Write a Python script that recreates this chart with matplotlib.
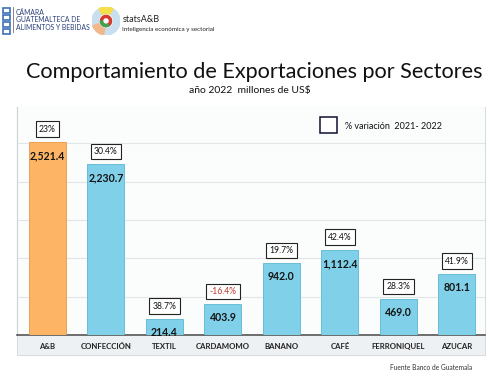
import matplotlib
matplotlib.use("Agg")
import matplotlib.pyplot as plt
from matplotlib.patches import Rectangle, Wedge

plt.rcParams['font.family'] = ['Lato', 'DejaVu Sans']

categories = ["A&B", "CONFECCIÓN", "TEXTIL", "CARDAMOMO", "BANANO", "CAFÉ", "FERRONIQUEL", "AZUCAR"]
values = [2521.4, 2230.7, 214.4, 403.9, 942.0, 1112.4, 469.0, 801.1]
pct_labels = ["23%", "30.4%", "38.7%", "-16.4%", "19.7%", "42.4%", "28.3%", "41.9%"]
pct_values = [23.0, 30.4, 38.7, -16.4, 19.7, 42.4, 28.3, 41.9]

W, H = 495, 375
fig = plt.figure(figsize=(W / 100, H / 100), dpi=100)
fig.patch.set_facecolor("white")

def fx(x):
    return x / W

def fy(y):
    return 1 - y / H

# chart frame
frame = Rectangle((fx(17), fy(355)), fx(485) - fx(17), fy(107) - fy(355),
                  transform=fig.transFigure, facecolor="#f7f9fa", edgecolor="#d8dcdf", lw=0.8, zorder=-2)
fig.patches.append(frame)
band = Rectangle((fx(17.5), fy(354.5)), fx(484.5) - fx(17.5), fy(335) - fy(354.5),
                 transform=fig.transFigure, facecolor="#eef1f3", edgecolor="none", zorder=-1)
fig.patches.append(band)

ax = fig.add_axes([fx(17), fy(335), fx(485) - fx(17), fy(107) - fy(335)], zorder=2)
ax.set_facecolor("#fbfcfc")
x = list(range(len(categories)))
colors = ["#fdb465"] + ["#7fd0e8"] * (len(categories) - 1)
edges = ["#e59a48"] + ["#5ab8d4"] * (len(categories) - 1)
bars = ax.bar(x, values, width=0.63, color=colors, edgecolor=edges, linewidth=0.6, zorder=3)
ax.set_xlim(-0.52, 7.48)
ax.set_ylim(0, 2975)
ax.set_yticks([500, 1000, 1500, 2000, 2500])
ax.yaxis.grid(True, color="#e3e6e8", lw=0.8, zorder=0)
ax.tick_params(axis="y", length=0, labelleft=False)
ax.set_xticks(x)
ax.set_xticklabels(categories, fontsize=5.6, fontweight="bold", color="#222222")
ax.tick_params(axis="x", length=0, pad=6)
for s in ["top", "right"]:
    ax.spines[s].set_visible(False)
ax.spines["left"].set_color("#cfd3d6")
ax.spines["bottom"].set_color("#555555")
ax.spines["bottom"].set_linewidth(1.2)

for xi, v, pl, pv in zip(x, values, pct_labels, pct_values):
    ax.annotate(f"{v:,.1f}", (xi, v), xytext=(0, -10), textcoords="offset points",
                ha="center", va="center", fontsize=7.6, fontweight="bold", color="#151515", zorder=5)
    ax.annotate(pl, (xi, v), xytext=(0, 9), textcoords="offset points",
                ha="center", va="center", fontsize=6.2,
                color="#c0392b" if pv < 0 else "#111111",
                bbox=dict(boxstyle="square,pad=0.38", fc="white", ec="#222222", lw=0.8), zorder=6)

# legend
ax.add_patch(Rectangle((fx(320), fy(133)), fx(337) - fx(320), fy(117) - fy(133),
                       transform=fig.transFigure, facecolor="white", edgecolor="#111133", lw=1.1, zorder=5))
fig.text(fx(345), fy(126), "% variación  2021- 2022", fontsize=6.5, va="center", ha="left",
         color="#111111", zorder=10)

# titles
fig.text(fx(254), fy(72), "Comportamiento de Exportaciones por Sectores", fontsize=15.6,
         ha="center", va="center", color="#111111")
fig.text(fx(250), fy(90), "año 2022  millones de US$", fontsize=7.5, ha="center", va="center", color="#111111")
fig.text(fx(390), fy(368), "Fuente Banco de Guatemala", fontsize=4.8, ha="left", va="center", color="#333333")

# logo
for yy in [8, 15, 22, 29]:
    fig.patches.append(Rectangle((fx(3), fy(yy + 5)), fx(7), fy(yy) - fy(yy + 5), transform=fig.transFigure,
                                 facecolor="none", edgecolor="#3b6fb6", lw=1.2))
fig.patches.append(Rectangle((fx(13), fy(33)), fx(1), fy(7) - fy(33), transform=fig.transFigure,
                             facecolor="#8a8a8a", edgecolor="none"))
fig.text(fx(16), fy(20), "CÁMARA\nGUATEMALTECA DE\nALIMENTOS Y BEBIDAS", fontsize=4.9,
         ha="left", va="center", color="#2a3f7a", linespacing=1.05)
lax = fig.add_axes([fx(92), fy(35), fx(28), fy(7) - fy(35)])
lax.set_aspect("equal")
lax.set_xlim(-1, 1); lax.set_ylim(-1, 1); lax.axis("off")
lax.add_patch(Wedge((0, 0), 1, 0, 360, width=0.45, color="#c8dff0"))
lax.add_patch(Wedge((0, 0), 1, 60, 120, width=0.45, color="#f5e04a"))
lax.add_patch(Wedge((0, 0), 1, 200, 260, width=0.45, color="#f2b88a"))
lax.add_patch(Wedge((0, 0), 0.4, 0, 360, width=0.15, color="#d63a2f"))
lax.add_patch(Wedge((0, 0), 0.4, 180, 300, width=0.15, color="#3aa655"))
fig.text(fx(123), fy(19), "statsA&B", fontsize=6.5, ha="left", va="center", color="#222222")
fig.text(fx(122), fy(29), "Inteligencia económica y sectorial", fontsize=4.5, ha="left", va="center", color="#222222")

fig.savefig("out.png", dpi=100, facecolor="white")
